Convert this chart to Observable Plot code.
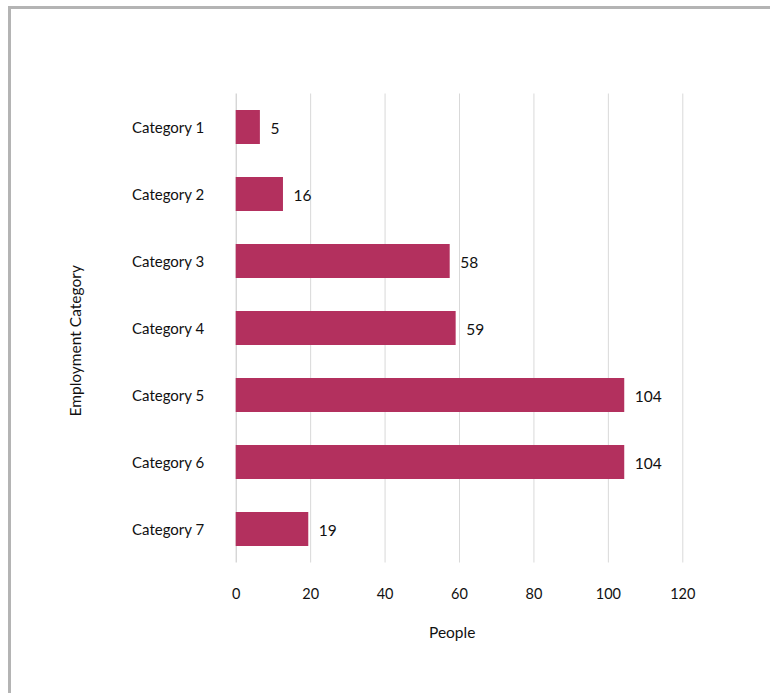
<!DOCTYPE html>
<html><head><meta charset="utf-8">
<script src="https://cdn.jsdelivr.net/npm/d3@7"></script>
<script src="https://cdn.jsdelivr.net/npm/@observablehq/plot@0.6"></script>
<style>
body{margin:0;background:#fff;}
#wrap{position:relative;width:770px;height:693px;overflow:hidden;background:#fff;}
#chart{position:absolute;left:0;top:0;}
#frame{position:absolute;left:8px;top:6px;width:800px;height:720px;border-top:3px solid #b4b4b4;border-left:3px solid #b4b4b4;pointer-events:none;}
</style></head>
<body><div id="wrap"><div id="chart"></div><div id="frame"></div></div>
<script>
const categories = ["Category 1","Category 2","Category 3","Category 4","Category 5","Category 6","Category 7"];
const barValues = [6.5, 12.7, 57.5, 59.1, 104.4, 104.4, 19.5];
const valueLabels = ["5","16","58","59","104","104","19"];
const xTicks = [0, 20, 40, 60, 80, 100, 120];
const xTitle = "People";
const yTitle = "Employment Category";

const data = categories.map((c, i) => ({c, v: barValues[i], label: valueLabels[i]}));
const font = "Lato, 'Open Sans', sans-serif";

const chart = Plot.plot({
  width: 770,
  height: 693,
  marginLeft: 235.7,
  marginRight: 87.7,
  marginTop: 93.5,
  marginBottom: 130.5,
  style: {fontFamily: font, background: "transparent", color: "#111"},
  x: {domain: [0, 120], ticks: xTicks},
  y: {domain: categories, paddingInner: 0.5, paddingOuter: 0.25},
  marks: [
    Plot.gridX(xTicks.filter(d => d !== 0), {stroke: "#d9d9d9", strokeOpacity: 1, strokeWidth: 1}),
    Plot.ruleX([0], {stroke: "#c4c4c4", strokeWidth: 1}),
    Plot.barX(data, {x: "v", y: "c", fill: "#b3305e"}),
    Plot.text(data, {x: "v", y: "c", text: "label", dx: 10, dy: 2, textAnchor: "start", fontSize: 15.5, fill: "#111"}),
    Plot.axisX(xTicks, {tickSize: 0, tickPadding: 26, fontSize: 14.5, label: null, fill: "#111"}),
    Plot.axisY({tickSize: 0, tickPadding: 32, fontSize: 15, label: null, fill: "#111", dy: 1}),
    Plot.text([xTitle], {frameAnchor: "bottom", dx: -7.3, dy: 75, fontSize: 15.5, fill: "#111"}),
    Plot.text([yTitle], {frameAnchor: "left", rotate: -90, dx: -159.8, dy: 88, fontSize: 15.5, fill: "#111"})
  ]
});
document.getElementById("chart").appendChild(chart);
</script>
</body></html>
